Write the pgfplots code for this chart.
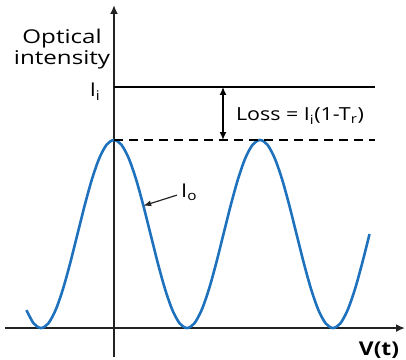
\documentclass[border=0pt]{standalone}
\usepackage{fontspec}
\setmainfont{Open Sans}
\usepackage{graphicx}
\usepackage{pgfplots}
\pgfplotsset{compat=1.18}
\usetikzlibrary{calc,arrows.meta}
\definecolor{curveblue}{RGB}{30,114,189}
\definecolor{axisdark}{RGB}{35,35,35}
\begin{document}
\begin{tikzpicture}
\begin{axis}[
  scale only axis, width=400pt, height=352pt,
  xmin=-1.493, xmax=3.986, ymin=-0.154, ymax=1.718,
  axis lines=middle,
  axis line style={line width=2.6pt, color=axisdark, -{Latex[length=9pt,width=8pt]}},
  xtick=\empty, ytick=\empty,
  clip=false,
]
\addplot[curveblue, line width=2.6pt, smooth] coordinates {
(-1.2,0.0955)(-1.1,0.0245)(-1.0,0)(-0.9,0.0245)(-0.8,0.0955)(-0.7,0.2061)(-0.6,0.3455)(-0.5,0.5)(-0.4,0.6545)(-0.3,0.7939)(-0.2,0.9045)(-0.1,0.9755)
(0,1)(0.1,0.9755)(0.2,0.9045)(0.3,0.7939)(0.4,0.6545)(0.5,0.5)(0.6,0.3455)(0.7,0.2061)(0.8,0.0955)(0.9,0.0245)
(1.0,0)(1.1,0.0245)(1.2,0.0955)(1.3,0.2061)(1.4,0.3455)(1.5,0.5)(1.6,0.6545)(1.7,0.7939)(1.8,0.9045)(1.9,0.9755)
(2.0,1)(2.1,0.9755)(2.2,0.9045)(2.3,0.7939)(2.4,0.6545)(2.5,0.5)(2.6,0.3455)(2.7,0.2061)(2.8,0.0955)(2.9,0.0245)
(3.0,0)(3.1,0.0245)(3.2,0.0955)(3.3,0.2061)(3.4,0.3455)(3.5,0.5)
};
\addplot[black, line width=1.4pt] coordinates {(0,1.282)(3.575,1.282)};
\addplot[black, line width=1.4pt, dash pattern=on 9pt off 6pt] coordinates {(0,1)(3.575,1)};
\draw[black, line width=1.4pt, {Latex[length=8pt,width=7pt]}-{Latex[length=8pt,width=7pt]}] (axis cs:1.493,1.282) -- (axis cs:1.493,1.0);
\node[anchor=west, inner sep=0pt, font=\fontsize{18}{20}\selectfont] at (axis cs:1.67,1.128) {\scalebox{1.19}[1]{Loss = I\textsubscript{i}(1-T\textsubscript{r})}};
\node[align=center, inner sep=0pt, font=\fontsize{19}{21}\selectfont] at (axis cs:-0.712,1.485) {\scalebox{1.27}[1]{Optical}\\\scalebox{1.27}[1]{intensity}};
\node[inner sep=0pt, font=\fontsize{19}{21}\selectfont] at (axis cs:-0.26,1.255) {\scalebox{1.15}[1]{I\textsubscript{i}}};
\node[inner sep=0pt, font=\fontsize{19}{21}\selectfont] at (axis cs:1.03,0.723) {\scalebox{1.15}[1]{I\textsubscript{o}}};
\draw[black!85, line width=1.2pt, -{Latex[length=8pt,width=6pt]}] (axis cs:0.863,0.707) -- (axis cs:0.40,0.65);
\node[inner sep=0pt, font=\bfseries\fontsize{19}{21}\selectfont] at (axis cs:3.63,-0.117) {\scalebox{1.2}[1]{V(t)}};
\end{axis}
\pgfresetboundingbox
\path ($(current axis.south west)+(-5pt,-3pt)$) rectangle ($(current axis.north east)+(1pt,5pt)$);
\end{tikzpicture}
\end{document}
